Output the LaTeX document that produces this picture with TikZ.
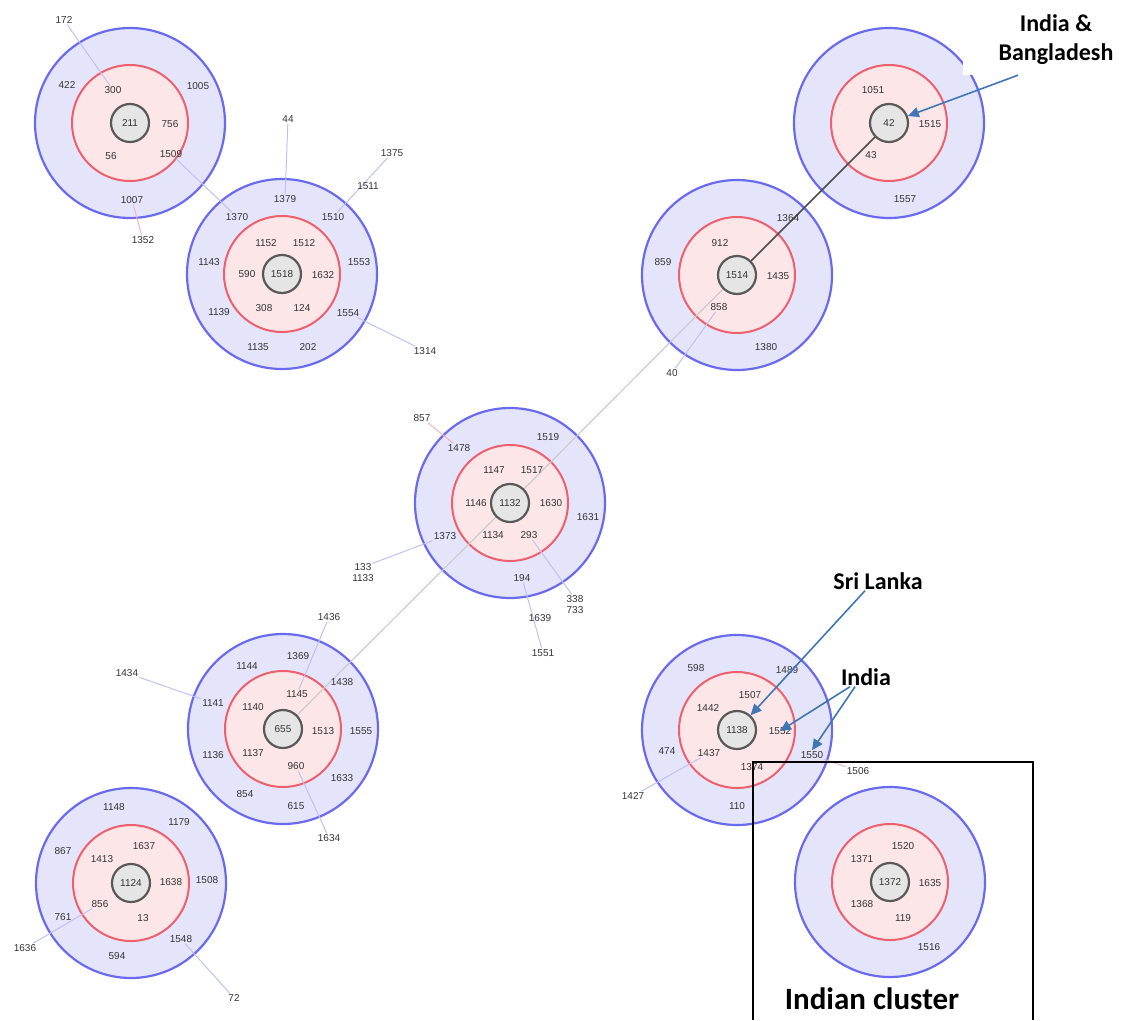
\documentclass[tikz,border=0pt]{standalone}
\usepackage{fontspec}
\setmainfont{Liberation Sans}
\newfontfamily\calloutfont{Carlito}
\usetikzlibrary{arrows.meta}
\definecolor{ringblue}{RGB}{106,106,240}
\definecolor{ringfill}{RGB}{228,228,251}
\definecolor{redring}{RGB}{238,96,110}
\definecolor{redfill}{RGB}{253,230,232}
\definecolor{linkpurple}{RGB}{192,192,242}
\definecolor{linkpink}{RGB}{240,180,195}
\definecolor{arrowblue}{RGB}{64,118,180}
\newcommand*{\dOut}{190pt}
\newcommand*{\dIn}{116pt}
\newcommand*{\dCore}{38pt}
\newcommand*{\clusterList}{211/130/123, 1518/282/274, 42/889/123, 1514/737/275, 1132/510/503, 655/283/729, 1124/131/883, 1138/737/730, 1372/890/882}
\pgfdeclarelayer{rings}
\pgfdeclarelayer{links}
\pgfsetlayers{rings,links,main}

\begin{document}
\begin{tikzpicture}[x=1pt,y=-1pt,
	outring/.style={circle,draw=ringblue,fill=ringfill,line width=2.2pt,minimum size=\dOut},
	inring/.style={circle,draw=redring,fill=redfill,line width=2pt,minimum size=\dIn},
	core/.style={circle,draw=black!65,fill=black!10,line width=2.2pt,minimum size=\dCore,inner sep=0pt,font=\fontsize{10}{12}\selectfont,text=black!80},
	num/.style={inner sep=1pt,font=\fontsize{10}{12}\selectfont,text=black!80},
	link/.style={draw=linkpurple,line width=1pt},
	trunk/.style={draw=black!22,line width=1pt},
	spine/.style={draw=black!70,line width=1.5pt},
	calloutlbl/.style={inner sep=1pt,align=center,font=\calloutfont\bfseries\fontsize{24}{29}\selectfont},
	callout/.style={draw=arrowblue,line width=1.6pt,-{Triangle[length=11pt,width=10pt]}}]
	\useasboundingbox (0,0) rectangle (1121,1020);
	
	% rings of every cluster
	\begin{pgfonlayer}{rings}
	\foreach \c/\cx/\cy in \clusterList {
		\node[outring] (o\c) at (\cx,\cy) {};
		\node[inring] (i\c) at (\cx,\cy) {};
	}
	\end{pgfonlayer}
	
	\foreach \c/\cx/\cy in \clusterList
		\node[core] (c\c) at (\cx,\cy) {\c};
	
	\foreach \t/\px/\py in {172/64/20, 422/67/85, 300/113/90, 1005/198/86, 756/170/124, 56/111/156, 1509/171/154, 1007/132/200, 1352/143/240,
		44/288/119, 1375/392/153, 1511/368/186, 1379/285/199, 1370/237/217, 1510/333/217, 1143/209/262, 1152/266/243, 1512/304/243, 1553/359/262, 590/247/274, 1632/323/275, 1139/219/312, 308/264/308, 124/302/308, 1554/348/313, 1135/258/347, 202/308/347, 1314/425/351,
		1051/873/90, 1515/930/124, 43/871/155, 1557/905/199,
		1364/788/218, 912/720/243, 859/663/262, 1435/778/276, 858/719/307, 1380/766/347, 40/672/373,
		857/422/418, 1478/459/448, 1519/548/437, 1147/494/470, 1517/532/470, 1146/476/503, 1630/551/503, 1631/588/517, 1373/445/536, 1134/493/535, 293/529/535, 194/522/578, 338/575/599, 733/575/610, 1639/540/618, 1551/543/653, 133/363/567, 1133/363/578,
		1436/329/617, 1434/127/673, 1369/298/656, 1144/247/666, 1438/342/682, 1145/297/694, 1141/213/703, 1140/253/707, 1513/323/731, 1555/361/731, 1136/213/755, 1137/253/753, 960/296/766, 1633/342/778, 854/245/794, 615/296/806, 1634/329/838,
		1148/114/807, 1179/179/822, 867/63/851, 1637/144/846, 1413/102/859, 1638/171/882, 1508/207/880, 856/100/904, 761/63/917, 13/143/918, 1548/181/939, 1636/25/948, 594/117/956, 72/234/998,
		598/696/668, 1489/787/670, 1507/750/695, 1442/708/708, 1552/780/731, 474/667/751, 1437/709/753, 1550/812/755, 1374/752/767, 1506/858/771, 1427/633/796, 110/737/806,
		1520/903/846, 1371/862/859, 1635/930/883, 1368/862/904, 119/903/918, 1516/929/947}
		\node[num] (n\t) at (\px,\py) {\t};
	
	\begin{pgfonlayer}{links}
	\draw[link] (n172) -- (n300);
	\draw[link] (n1509) -- (n1370);
	\draw[link,draw=linkpink] (n1007) -- (n1352);
	\draw[link] (n44) -- (n1379);
	\draw[link] (n1375) -- (n1510);
	\draw[link] (n1554) -- (n1314);
	\draw[link] (n858) -- (n40);
	\draw[link,draw=linkpink] (n857) -- (n1478);
	\draw[link] (n293) -- (n338);
	\draw[link] (n194) -- (n1551);
	\draw[link] (n1373) -- (n133);
	\draw[link] (n1436) -- (n1145);
	\draw[link] (n1434) -- (n1141);
	\draw[link] (n960) -- (n1634);
	\draw[link] (n856) -- (n1636);
	\draw[link] (n1548) -- (n72);
	\draw[link] (n1437) -- (n1427);
	\draw[link,draw=linkpink] (n1550) -- (n1506);
	\draw[trunk] (c1514) -- (c1132) -- (c655);
	\draw[spine] (c42) -- (c1514);
	\end{pgfonlayer}
	
	% country call-outs
	\node[calloutlbl,fill=white,minimum width=186pt,minimum height=70pt] (lblib) at (1056,40) {India \&\\Bangladesh};
	\node[calloutlbl] (lblsl) at (878,581) {Sri Lanka};
	\node[calloutlbl] (lblin) at (866,677) {India};
	\draw[callout] ([xshift=-38pt]lblib.south) -- (c42);
	\draw[callout] ([xshift=-13pt]lblsl.south) -- (c1138);
	\draw[callout] ([xshift=-16pt]lblin.south) -- (n1552.center);
	\draw[callout] ([xshift=-11pt]lblin.south) -- (n1550.north);
	
	\draw[line width=1.3pt] (753,1020) |- (1033,762) -- (1033,1020);
	\node[calloutlbl,font=\calloutfont\bfseries\fontsize{31}{34}\selectfont] (lblic) at (872,999) {Indian cluster};
\end{tikzpicture}
\end{document}
